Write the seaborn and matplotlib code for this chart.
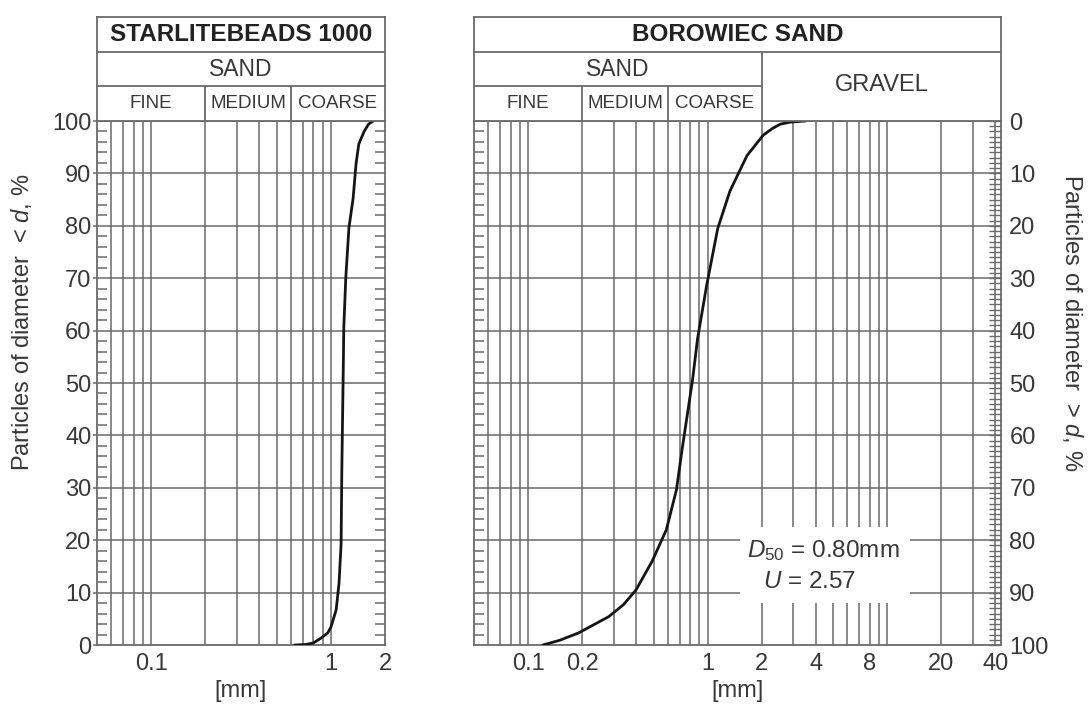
import numpy as np
import pandas as pd
import matplotlib
matplotlib.use('Agg')
import matplotlib.pyplot as plt
from matplotlib.patches import Rectangle
from matplotlib.ticker import MultipleLocator, NullLocator
import seaborn as sns

# grading curves: grain diameter d [mm] vs % passing
starlite_d = [0.63, 0.725, 0.80, 0.88, 0.96, 1.0, 1.07, 1.11, 1.14, 1.15, 1.17, 1.18, 1.21, 1.26,
              1.33, 1.38, 1.43, 1.53, 1.62, 1.72]
starlite_pct = [0, 0.1, 0.4, 1.3, 2.3, 3.4, 6.7, 11.8, 19.4, 33, 51, 60.6, 70, 79.6,
                85.3, 91.8, 95.6, 98, 99.4, 100]

borowiec_d = [0.121, 0.15, 0.191, 0.281, 0.34, 0.399, 0.491, 0.589, 0.670, 0.724, 0.793, 0.824,
              0.879, 0.987, 1.138, 1.330, 1.656, 2.04, 2.3, 2.54, 2.9, 3.51]
borowiec_pct = [0, 0.9, 2.3, 5.4, 7.7, 10.5, 16, 22, 29.6, 37.8, 46.8, 50.6,
                58.5, 68.6, 79.5, 86.6, 93.4, 97.3, 98.6, 99.4, 99.8, 100]

d50_text = '0.80mm'
u_text = '2.57'

# axes ranges, grid lines and ticks (mm)
left_xlim = (0.05, 2)
right_xlim = (0.05, 43)
left_grid = [0.06, 0.07, 0.08, 0.09, 0.1, 0.2, 0.3, 0.4, 0.5, 0.6, 0.7, 0.8, 0.9, 1]
right_grid = left_grid + [2, 3, 4, 5, 6, 7, 8, 9, 10, 20, 30, 40]
left_xticks = [0.1, 1, 2]
left_xticklabels = ['0.1', '1', '2']
right_xticks = [0.1, 0.2, 1, 2, 4, 8, 20, 40]
right_xticklabels = ['0.1', '0.2', '1', '2', '4', '8', '20', '40']
pct_ticks = [0, 10, 20, 30, 40, 50, 60, 70, 80, 90, 100]

# sand fractions and their bounds
fractions = ['FINE', 'MEDIUM', 'COARSE']
fraction_bounds = [0.05, 0.2, 0.6, 2]

txt_col = '#383838'
line_col = '#6a6a6a'
curve_col = '#151515'
fs = 17

sns.set_style('white')
plt.rcParams['font.family'] = ['Liberation Sans', 'DejaVu Sans']
plt.rcParams['mathtext.fontset'] = 'custom'
plt.rcParams['mathtext.rm'] = 'Liberation Sans'
plt.rcParams['mathtext.it'] = 'Liberation Sans:italic'

fig = plt.figure(figsize=(10.88, 7.09), dpi=100)
W, H = 1088, 709


def px_box(x0, x1, ytop, ybot):
    return [x0 / W, (H - ybot) / H, (x1 - x0) / W, (ybot - ytop) / H]


ax1 = fig.add_axes(px_box(97, 385, 121, 645))
ax2 = fig.add_axes(px_box(474, 1001, 121, 645))
hx1 = fig.add_axes(px_box(97, 385, 17, 121))
hx2 = fig.add_axes(px_box(474, 1001, 17, 121))


def gmean(a, b):
    return np.sqrt(a * b)


def draw_header(hax, title, xlim, gravel):
    hax.set_xscale('log')
    hax.set_xlim(xlim)
    hax.set_ylim(0, 3)
    hax.set_xticks([])
    hax.xaxis.set_minor_locator(NullLocator())
    hax.set_yticks([])
    for s in hax.spines.values():
        s.set_color(line_col)
        s.set_linewidth(1.3)
    kw = dict(color=line_col, lw=1.3)
    sand_hi = fraction_bounds[-1]
    hax.axhline(2, **kw)
    hax.hlines(1, xlim[0], sand_hi, **kw)
    hax.vlines(fraction_bounds[1:-1], 0, 1, **kw)
    hax.text(gmean(*xlim), 2.5, title, ha='center', va='center', fontsize=17.5,
             fontweight='bold', color='#222222')
    hax.text(gmean(xlim[0], sand_hi), 1.5, 'SAND', ha='center', va='center', fontsize=16.5, color=txt_col)
    for lab, lo, hi in zip(fractions, fraction_bounds[:-1], fraction_bounds[1:]):
        hax.text(gmean(lo, hi), 0.5, lab, ha='center', va='center', fontsize=13.5, color=txt_col)
    if gravel:
        hax.vlines(sand_hi, 0, 2, **kw)
        hax.text(gmean(sand_hi, xlim[1]), 1.05, 'GRAVEL', ha='center', va='center', fontsize=17,
                 color=txt_col)


def style_main(ax, xlim, grid, xticks, xticklabels):
    ax.set_xscale('log')
    ax.set_xlim(xlim)
    ax.set_ylim(0, 100)
    for v in grid:
        ax.axvline(v, color=line_col, lw=1.1, zorder=1)
    for p in pct_ticks[1:-1]:
        ax.axhline(p, color=line_col, lw=1.1, zorder=1)
    for s in ax.spines.values():
        s.set_color(line_col)
        s.set_linewidth(1.3)
    ax.set_xticks(xticks, xticklabels)
    ax.xaxis.set_minor_locator(NullLocator())
    ax.tick_params(axis='x', length=0, pad=6, labelsize=fs, labelcolor=txt_col)
    ax.yaxis.set_minor_locator(MultipleLocator(2))


df1 = pd.DataFrame({'d': starlite_d, 'pct': starlite_pct})
df2 = pd.DataFrame({'d': borowiec_d, 'pct': borowiec_pct})

style_main(ax1, left_xlim, left_grid, left_xticks, left_xticklabels)
style_main(ax2, right_xlim, right_grid, right_xticks, right_xticklabels)

sns.lineplot(data=df1, x='d', y='pct', ax=ax1, color=curve_col, lw=2, zorder=4)
sns.lineplot(data=df2, x='d', y='pct', ax=ax2, color=curve_col, lw=2, zorder=4)
for ax in (ax1, ax2):
    ax.set_xlabel('[mm]', fontsize=fs, color=txt_col, labelpad=3)
    ax.set_ylabel('')

# left panel y axis
ax1.set_yticks(pct_ticks, [str(p) for p in pct_ticks])
ax1.tick_params(axis='y', which='major', direction='out', length=3, width=1.1, color=line_col,
                pad=1, labelsize=fs, labelcolor=txt_col, left=True, right=False)
ax1.tick_params(axis='y', which='minor', direction='in', length=7, width=1.1, color=line_col,
                left=True, right=True)

# right panel: minor ticks on left, inverted percentage scale on the right
ax2.set_yticks(pct_ticks, [])
ax2.tick_params(axis='y', which='major', length=0, left=False, right=False)
ax2.tick_params(axis='y', which='minor', direction='in', length=7, width=1.1, color=line_col,
                left=True, right=False)
axr = ax2.twinx()
axr.set_ylim(100, 0)
axr.set_yticks(pct_ticks, [str(p) for p in pct_ticks])
axr.yaxis.set_minor_locator(MultipleLocator(1))
axr.tick_params(axis='y', which='both', direction='in', length=9, width=1.0, color=line_col,
                pad=6, labelsize=fs, labelcolor=txt_col)
for s in axr.spines.values():
    s.set_visible(False)

# annotation box
ax2.add_patch(Rectangle((0.505, 0.08), 0.322, 0.145, transform=ax2.transAxes,
                        facecolor='white', edgecolor='none', zorder=2))
ax2.text(0.518, 0.181, r'$D_{50}$ = ' + d50_text, transform=ax2.transAxes, ha='left', va='center',
         fontsize=17.5, color=txt_col, zorder=5)
ax2.text(0.548, 0.12, r'$U$ = ' + u_text, transform=ax2.transAxes, ha='left', va='center',
         fontsize=17.5, color=txt_col, zorder=5)

draw_header(hx1, 'STARLITEBEADS 1000', left_xlim, False)
draw_header(hx2, 'BOROWIEC SAND', right_xlim, True)

fig.text(22 / W, 0.545, r'Particles of diameter  < $d$, %', rotation=90, ha='center', va='center',
         fontsize=17, color=txt_col)
fig.text(1073 / W, 0.545, r'Particles of diameter  > $d$, %', rotation=270, ha='center', va='center',
         fontsize=17, color=txt_col)

fig.savefig('out.png', dpi=100, facecolor='white')
